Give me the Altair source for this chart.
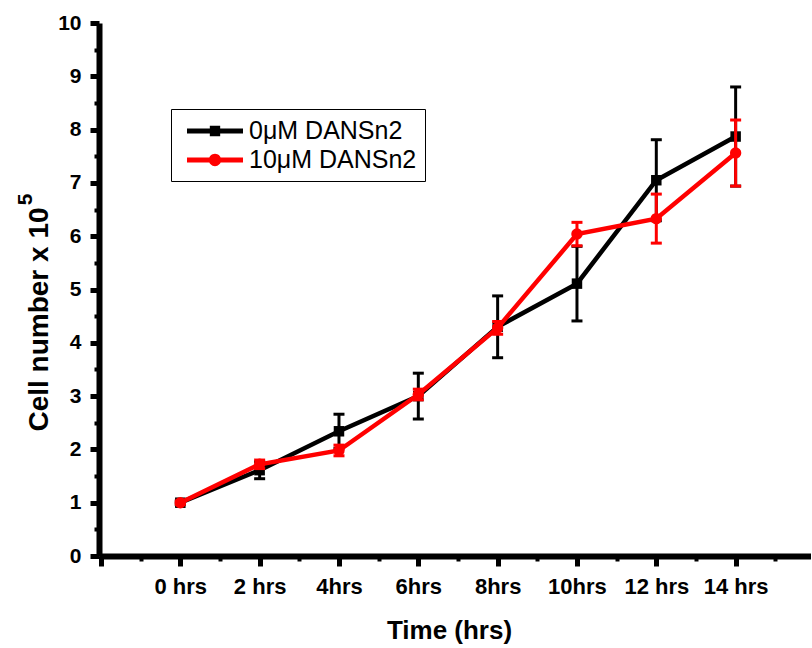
import json
import altair as alt
import pandas as pd

# ---- data ----
hours = [0, 2, 4, 6, 8, 10, 12, 14]
x_labels = ["0 hrs", "2 hrs", "4hrs", "6hrs", "8hrs", "10hrs", "12 hrs", "14 hrs"]
series_names = ["0μM DANSn2", "10μM DANSn2"]
ctrl_mean = [1.0, 1.61, 2.34, 3.0, 4.3, 5.11, 7.05, 7.87]
ctrl_err = [0.03, 0.16, 0.32, 0.43, 0.58, 0.70, 0.76, 0.93]
trt_mean = [1.0, 1.72, 1.98, 3.03, 4.28, 6.04, 6.33, 7.56]
trt_err = [0.03, 0.08, 0.10, 0.10, 0.12, 0.22, 0.46, 0.62]
colors = ["#000000", "#ff0000"]
y_title = "Cell number x 10"
y_title_exp = "5"
x_title = "Time (hrs)"

rows = []
for name, means, errs in [(series_names[0], ctrl_mean, ctrl_err), (series_names[1], trt_mean, trt_err)]:
    for h, m, e in zip(hours, means, errs):
        rows.append({"hrs": h, "mean": m, "lo": m - e, "hi": m + e, "series": name})
df = pd.DataFrame(rows)

FONT = "Liberation Sans"
# legend glyphs: a line segment with the series marker on it
SQ = "M-2,-0.18H2V0.18H-2Z M-0.37,-0.37H0.37V0.37H-0.37Z"
CI = "M-2,-0.18H2V0.18H-2Z M0.44,0A0.44,0.44 0 1,1 -0.44,0A0.44,0.44 0 1,1 0.44,0Z"

legend = alt.Legend(
    title=None, orient="none", legendX=72, legendY=86,
    labelFont=FONT, labelFontSize=25, labelColor="black",
    symbolSize=784, symbolOffset=22, labelOffset=20, rowPadding=2,
    padding=8, strokeColor="black", fillColor="white", labelLimit=400,
    symbolOpacity=1, symbolStrokeWidth=0,
)
cscale = alt.Scale(domain=series_names, range=colors)
color_nolegend = alt.Color("series:N", scale=cscale, legend=None)

xscale = alt.Scale(domain=[-2.05, 15.9], nice=False, zero=False)
yscale = alt.Scale(domain=[0, 10], nice=False)

label_expr = "datum.value < 0 ? '' : " + json.dumps(x_labels) + "[datum.value / 2]"
x_major = alt.Axis(values=[-2] + hours, labelExpr=label_expr, title=x_title, grid=False,
                   domainWidth=6, domainColor="black", tickWidth=5, tickSize=10, tickColor="black",
                   labelFont=FONT, labelFontSize=22, labelFontWeight="bold", labelColor="black",
                   labelPadding=10, titleFont=FONT, titleFontSize=26, titleFontWeight="bold",
                   titleColor="black", titlePadding=20, titleX=350, orient="bottom")
y_major = alt.Axis(values=list(range(0, 11)), title=y_title, grid=False,
                   domainWidth=6, domainColor="black", tickWidth=5, tickSize=9, tickColor="black",
                   labelFont=FONT, labelFontSize=21, labelFontWeight="bold", labelColor="black",
                   labelPadding=9, titleFont=FONT, titleFontSize=28, titleFontWeight="bold",
                   titleColor="black", titleAngle=270, titleAlign="center", titleBaseline="middle",
                   titleX=-60, titleY=296, orient="left")
x_minor = alt.Axis(values=[-1, 1, 3, 5, 7, 9, 11, 13, 15], labels=False, title=None, domain=False,
                   grid=False, tickWidth=4, tickSize=5, tickColor="black", orient="bottom")
y_minor = alt.Axis(values=[0.5 + i for i in range(10)], labels=False, title=y_title_exp, domain=False,
                   grid=False, tickWidth=4, tickSize=5, tickColor="black",
                   titleFont=FONT, titleFontSize=21, titleFontWeight="bold", titleColor="black",
                   titleAngle=270, titleAlign="center", titleBaseline="middle",
                   titleX=-74, titleY=176, orient="left")

base = alt.Chart(df)

# invisible layer that only carries the legend (colour + line/marker glyph)
legend_layer = base.mark_point(filled=True, opacity=0).encode(
    x=alt.X("hrs:Q", scale=xscale, axis=None),
    y=alt.Y("mean:Q", scale=yscale, axis=None),
    color=alt.Color("series:N", scale=cscale, legend=legend),
    shape=alt.Shape("series:N", scale=alt.Scale(domain=series_names, range=[SQ, CI]), legend=legend),
)

layers = [legend_layer]
for i, name in enumerate(series_names):
    sub = base.transform_filter(alt.datum.series == name)
    xa = x_major if i == 0 else x_minor
    ya = y_major if i == 0 else y_minor
    line = sub.mark_line(strokeWidth=4.5).encode(
        x=alt.X("hrs:Q", scale=xscale, axis=xa),
        y=alt.Y("mean:Q", scale=yscale, axis=ya),
        color=color_nolegend,
    )
    pts = sub.mark_point(filled=True, opacity=1, size=110 if i == 0 else 130,
                         shape="square" if i == 0 else "circle").encode(
        x=alt.X("hrs:Q", scale=xscale, axis=None),
        y=alt.Y("mean:Q", scale=yscale, axis=None),
        color=color_nolegend,
    )
    rule = sub.mark_rule(strokeWidth=3).encode(
        x=alt.X("hrs:Q", scale=xscale, axis=None),
        y=alt.Y("lo:Q", scale=yscale, axis=None),
        y2="hi:Q",
        color=color_nolegend,
    )
    cap_lo = sub.mark_tick(orient="horizontal", size=11, thickness=3, opacity=1).encode(
        x=alt.X("hrs:Q", scale=xscale, axis=None),
        y=alt.Y("lo:Q", scale=yscale, axis=None),
        color=color_nolegend,
    )
    cap_hi = sub.mark_tick(orient="horizontal", size=11, thickness=3, opacity=1).encode(
        x=alt.X("hrs:Q", scale=xscale, axis=None),
        y=alt.Y("hi:Q", scale=yscale, axis=None),
        color=color_nolegend,
    )
    layers += [line, pts, rule, cap_lo, cap_hi]

chart = alt.layer(*layers).resolve_axis(x="independent", y="independent").properties(
    width=712, height=533,
    autosize=alt.AutoSizeParams(type="none"),
    padding={"left": 99, "top": 23, "right": 0, "bottom": 92},
    background="white",
).configure_view(stroke=None)

chart.save("out.html", embed_options={"renderer": "svg", "actions": False})
